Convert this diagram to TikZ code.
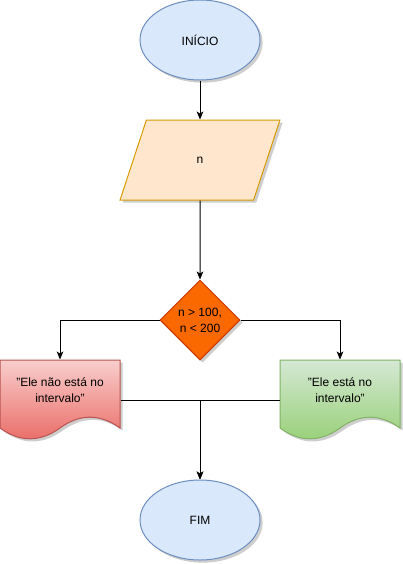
\documentclass[tikz,border=0pt]{standalone}
\usepackage{fontspec}
\setmainfont{Liberation Sans}
\usetikzlibrary{shapes.geometric, arrows.meta, shadows}

\definecolor{azul}{HTML}{DAE8FC}
\definecolor{azulB}{HTML}{6C8EBF}
\definecolor{pessego}{HTML}{FFE6CC}
\definecolor{pessegoB}{HTML}{D79B00}
\definecolor{laranja}{HTML}{FA6800}
\definecolor{laranjaB}{HTML}{C73500}
\definecolor{vermA}{HTML}{F8CECC}
\definecolor{vermB}{HTML}{EA6B66}
\definecolor{vermC}{HTML}{B85450}
\definecolor{verdeA}{HTML}{D5E8D4}
\definecolor{verdeB}{HTML}{97D077}
\definecolor{verdeC}{HTML}{82B366}

\begin{document}
\begin{tikzpicture}[x=0.75pt, y=-0.75pt, font=\fontsize{9}{12}\selectfont, line width=0.75pt,
  sombra/.style={drop shadow={shadow xshift=2pt, shadow yshift=-2pt, opacity=0.35, fill=black!55}},
  seta/.style={-{Stealth[length=6pt, width=5pt, inset=1.5pt]}}]
\useasboundingbox (0,0) rectangle (403,564);

\node[ellipse, draw=azulB, fill=azul, minimum width=90pt, minimum height=60pt, sombra] (1) at (200,40) {INÍCIO};
\node[trapezium, trapezium left angle=76, trapezium right angle=104, trapezium stretches=true, draw=pessegoB, fill=pessego, minimum width=120pt, minimum height=60pt, sombra] (2) at (200,160) {n};
\node[diamond, aspect=1, draw=laranjaB, fill=laranja, minimum width=60pt, minimum height=60pt, inner sep=0pt, align=center, sombra] (3) at (200,320) {n > 100,\\n < 200};

% documentos
\node[minimum width=90pt, minimum height=60pt, inner sep=0pt] (4) at (60,400) {};
\path[draw=vermC, top color=vermA, bottom color=vermB, sombra, shift={(4.center)}] (-60,-40) -- (60,-40) -- (60,28) .. controls (40,13.6) and (20,13.6) .. (0,28) .. controls (-20,42.4) and (-40,42.4) .. (-60,28) -- cycle;
\node[align=center] (t4) at (60,390) {"Ele não está no\\intervalo"};

\node[minimum width=90pt, minimum height=60pt, inner sep=0pt] (5) at (340,400) {};
\path[draw=verdeC, top color=verdeA, bottom color=verdeB, sombra, shift={(5.center)}] (-60,-40) -- (60,-40) -- (60,28) .. controls (40,13.6) and (20,13.6) .. (0,28) .. controls (-20,42.4) and (-40,42.4) .. (-60,28) -- cycle;
\node[align=center] (t5) at (340,390) {"Ele está no\\intervalo"};

\node[ellipse, draw=azulB, fill=azul, minimum width=90pt, minimum height=60pt, sombra] (6) at (200,520) {FIM};

\draw[seta] (1) -- (2);
\draw[seta] (2) -- (3);
\draw[seta] (3.west) -| (4.north);
\draw[seta] (3.east) -| (5.north);
\draw[seta] (4.east) -| (6.north);
\draw[seta] (5.west) -| (6.north);
\end{tikzpicture}
\end{document}
